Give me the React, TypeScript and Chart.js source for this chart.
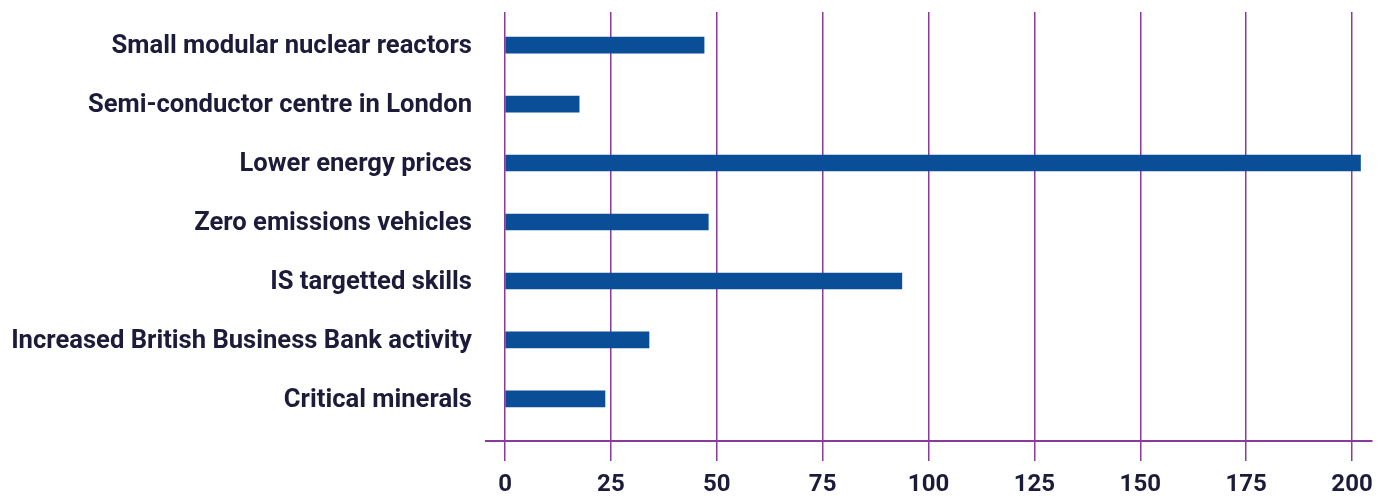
import React, { useEffect, useRef } from "react";
import { Chart, registerables } from "chart.js";

Chart.register(...registerables);

const categories: string[] = [
  "Small modular nuclear reactors",
  "Semi-conductor centre in London",
  "Lower energy prices",
  "Zero emissions vehicles",
  "IS targetted skills",
  "Increased British Business Bank activity",
  "Critical minerals",
];
const values: number[] = [47, 17.5, 202, 48, 93.7, 34, 23.6];
const xTicks: number[] = [0, 25, 50, 75, 100, 125, 150, 175, 200];

const BAR = "#0a4e98";
const PURPLE = "#8a3a9c";
const TEXT = "#1d1b3a";
const FONT = "Roboto, 'DejaVu Sans', sans-serif";

export default function App() {
  const ref = useRef<HTMLCanvasElement | null>(null);
  useEffect(() => {
    if (!ref.current) return;
    const chart = new Chart(ref.current, {
      type: "bar",
      data: {
        datasets: [
          {
            data: values.map((v, i) => ({ x: v, y: i })),
            backgroundColor: BAR,
            borderWidth: 0,
            barThickness: 16,
          },
        ],
      },
      options: {
        indexAxis: "y",
        responsive: false,
        animation: false,
        layout: { padding: { top: 4, right: 6, left: 0, bottom: 0 } },
        plugins: { legend: { display: false }, tooltip: { enabled: false } },
        scales: {
          x: {
            type: "linear",
            min: -4.49,
            max: 204.72,
            afterBuildTicks: (s: any) => {
              s.ticks = xTicks.map((v) => ({ value: v }));
            },
            afterFit: (s: any) => {
              s.height = 58;
              s.paddingLeft = 0;
              s.paddingRight = 0;
            },
            grid: {
              color: PURPLE,
              lineWidth: 1.5,
              tickLength: 20,
              drawTicks: true,
            },
            border: { display: true, color: PURPLE, width: 2 },
            ticks: {
              color: TEXT,
              padding: 10,
              font: { family: FONT, weight: "bold", size: 24 },
              callback: (v: any) => String(v),
            },
          },
          y: {
            type: "linear",
            reverse: true,
            offset: false,
            min: -0.561,
            max: 6.714,
            afterBuildTicks: (s: any) => {
              s.ticks = categories.map((_, i) => ({ value: i }));
            },
            afterFit: (s: any) => {
              s.width = 478;
              s.paddingTop = 0;
              s.paddingBottom = 0;
            },
            grid: { display: false, drawTicks: false, offset: false },
            border: { display: false },
            ticks: {
              color: TEXT,
              padding: 14,
              labelOffset: 2,
              font: { family: FONT, weight: "bold", size: 25.6 },
              callback: (v: any) => categories[v as number] ?? "",
            },
          },
        },
      },
    } as any);
    return () => chart.destroy();
  }, []);
  return (
    <div style={{ width: 1370, height: 491, marginBottom: -8 }}>
      <canvas ref={ref} width={1370} height={491} style={{ display: "block" }} />
    </div>
  );
}
